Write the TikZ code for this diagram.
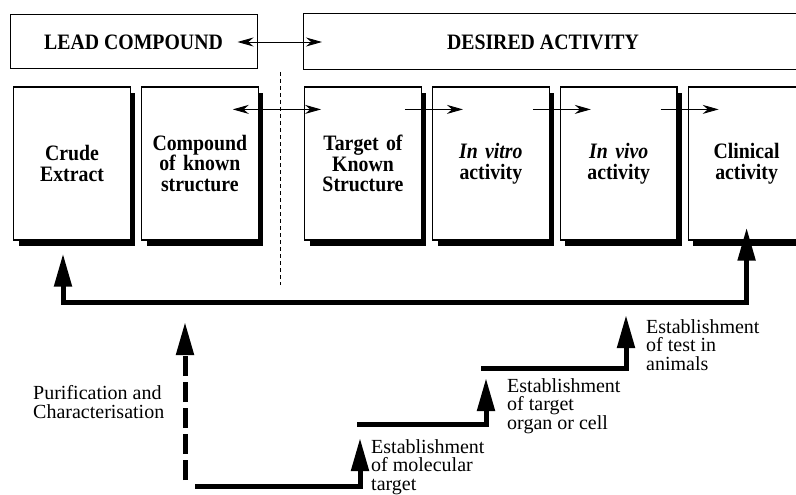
\documentclass[tikz,border=0pt]{standalone}
\usepackage{fontspec}
\setmainfont{Liberation Serif}
\newfontfamily\tallserif[FakeStretch=0.9]{Liberation Serif}
\usetikzlibrary{arrows.meta, positioning, shadows}
\tikzstyle{headbox} = [rectangle, draw, line width=1pt, minimum height=54pt, font=\tallserif\bfseries\fontsize{22}{22}\selectfont]
\tikzstyle{stage} = [rectangle, draw, line width=1.2pt, fill=white, minimum width=116pt, minimum height=153pt, text width=110pt, align=center, font=\tallserif\bfseries\fontsize{22}{20.5}\selectfont, drop shadow={shadow xshift=5pt, shadow yshift=-6pt, fill=black, opacity=1}]
\tikzstyle{link} = [line width=0.9pt, -{Stealth[length=16pt, width=9pt]}]
\tikzstyle{stair} = [line width=5pt, -{Triangle[length=33pt, width=17pt]}]
\tikzstyle{note} = [anchor=west, align=left, inner sep=0pt, font=\fontsize{20}{18.5}\selectfont]

\begin{document}
\begin{tikzpicture}[x=1pt, y=-1pt]
  \clip (0,0) rectangle (796,495);
  % headings
  \node (lead) [headbox, minimum width=247pt] at (133.5,42) {LEAD COMPOUND};
  \node (desired) [headbox, minimum width=560pt, minimum height=56pt, anchor=west] at (303,42) {};
  \node (desiredlbl) [font=\tallserif\bfseries\fontsize{22}{22}\selectfont] at ([xshift=240]desired.west) {DESIRED ACTIVITY};
  \draw [link, {Stealth[length=16pt, width=9pt]}-{Stealth[length=16pt, width=9pt]}] ([xshift=-20]lead.east) -- ([xshift=19]desired.west);
  % stages
  \node (crude) [stage] at (72,163.5) {Crude\\Extract};
  \node (compound) [stage, right=10pt of crude] {Compound\\of known\\structure};
  \node (target) [stage] at (363,163.5) {Target of\\Known\\Structure};
  \node (vitro) [stage, right=10pt of target] {\textit{In vitro}\\activity};
  \node (vivo) [stage, right=10pt of vitro] {\textit{In vivo}\\activity};
  \node (clinical) [stage, right=10pt of vivo] {Clinical\\activity};
  \draw [link, {Stealth[length=16pt, width=9pt]}-{Stealth[length=16pt, width=9pt]}] ([shift={(-26,23)}]compound.north east) -- ([shift={(17,23)}]target.north west);
  \foreach \from/\to in {target/vitro, vitro/vivo, vivo/clinical}
    \draw [link] ([shift={(-17,23)}]\from.north east) -- ([shift={(31,23)}]\to.north west);
  \draw [line width=0.8pt, dash pattern=on 4pt off 3pt] (280,72) -- (280,285);
  % feedback
  \coordinate (ubase) at (400,302);
  \draw [stair, {Triangle[length=33pt, width=17pt]}-{Triangle[length=33pt, width=17pt]}] ([shift={(-9,13)}]crude.south) |- (ubase) -| ([yshift=13]clinical.south);
  % stairs
  \coordinate (p0) at (185,480);
  \coordinate (p1) at (185,322);
  \coordinate (s0) at (195,486);
  \coordinate (s1) at (360,438);
  \coordinate (s2) at (357,424);
  \coordinate (s3) at (486,378);
  \coordinate (s4) at (481,368);
  \coordinate (s5) at (626,315);
  \draw [stair, dash pattern=on 20pt off 6pt] (p0) -- (p1);
  \draw [stair] (s0) -| (s1);
  \draw [stair] (s2) -| (s3);
  \draw [stair] (s4) -| (s5);
  \node (purif) [note] at (33,402) {Purification and\\Characterisation};
  \node (estmol) [note] at (371,467) {Establishment\\of molecular\\target};
  \node (estorgan) [note] at (507,406) {Establishment\\of target\\organ or cell};
  \node (estanimal) [note] at (646,345) {Establishment\\of test in\\animals};
\end{tikzpicture}
\end{document}
